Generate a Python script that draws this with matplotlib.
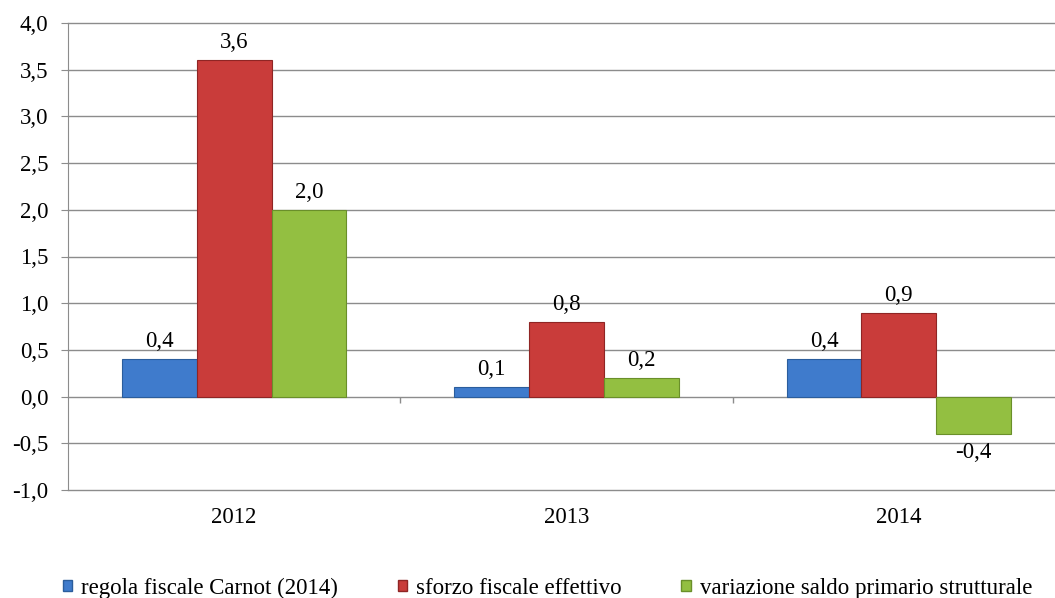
import numpy as np
import matplotlib
matplotlib.use('Agg')
import matplotlib.pyplot as plt
import matplotlib.patches as mpatches

# data
years = ['2012', '2013', '2014']
series_names = ['regola fiscale Carnot (2014)',
                'sforzo fiscale effettivo',
                'variazione saldo primario strutturale']
regola = [0.4, 0.1, 0.4]
sforzo = [3.6, 0.8, 0.9]
variazione = [2.0, 0.2, -0.4]
yticks = [-1.0, -0.5, 0.0, 0.5, 1.0, 1.5, 2.0, 2.5, 3.0, 3.5, 4.0]

colors = ['#3f7bcc', '#c93c3a', '#93bf41']
edges = ['#2b5d9c', '#8f2524', '#6a8f2a']

plt.rcParams['font.family'] = ['Liberation Serif', 'DejaVu Serif']
plt.rcParams['font.size'] = 16.5


def fmt(v):
    return f'{v:.1f}'.replace('.', ',')


fig = plt.figure(figsize=(10.55, 5.98), dpi=100)
ax = fig.add_axes([68 / 1055, 108 / 598, 997 / 1055, 467 / 598])

x = np.arange(len(years))
w = 0.225
for k, vals in enumerate([regola, sforzo, variazione]):
    xs = x + (k - 1) * w
    ax.bar(xs, vals, width=w, color=colors[k], edgecolor=edges[k],
           linewidth=0.8, zorder=3, label=series_names[k])
    for xi, v in zip(xs, vals):
        if v >= 0:
            ax.annotate(fmt(v), (xi, v), xytext=(0, 5), textcoords='offset points',
                        ha='center', va='bottom')
        else:
            ax.annotate(fmt(v), (xi, v), xytext=(0, -6), textcoords='offset points',
                        ha='center', va='top')

ax.set_xlim(-0.5, len(years) - 0.5)
ax.set_ylim(yticks[0], yticks[-1])
ax.set_yticks(yticks)
ax.set_yticklabels([fmt(t) for t in yticks])
ax.yaxis.grid(True, color='#8c8c8c', linewidth=1.0, zorder=0)
for gl in ax.get_ygridlines():
    gl.set_clip_on(False)
ax.set_axisbelow(True)

for s in ['top', 'right', 'bottom']:
    ax.spines[s].set_visible(False)
ax.spines['left'].set_color('#8c8c8c')
ax.tick_params(axis='y', length=5, color='#8c8c8c', pad=9)

# category labels below plot area
ax.set_xticks(x)
ax.set_xticklabels(years)
ax.tick_params(axis='x', length=0, pad=12)

# category boundary ticks on the zero line
bounds = np.arange(len(years) - 1) + 0.5
ax.vlines(bounds, -0.065, 0, color='#8c8c8c', linewidth=1.0, zorder=2)

handles = [mpatches.Patch(facecolor=colors[k], edgecolor=edges[k], label=series_names[k])
           for k in range(3)]
fig.legend(handles=handles, loc='center', bbox_to_anchor=(0.519, 10 / 598), ncol=3,
           frameon=False, handlelength=0.4, handleheight=0.4, handletextpad=0.4,
           columnspacing=2.6)

fig.savefig('out.png', dpi=100)
